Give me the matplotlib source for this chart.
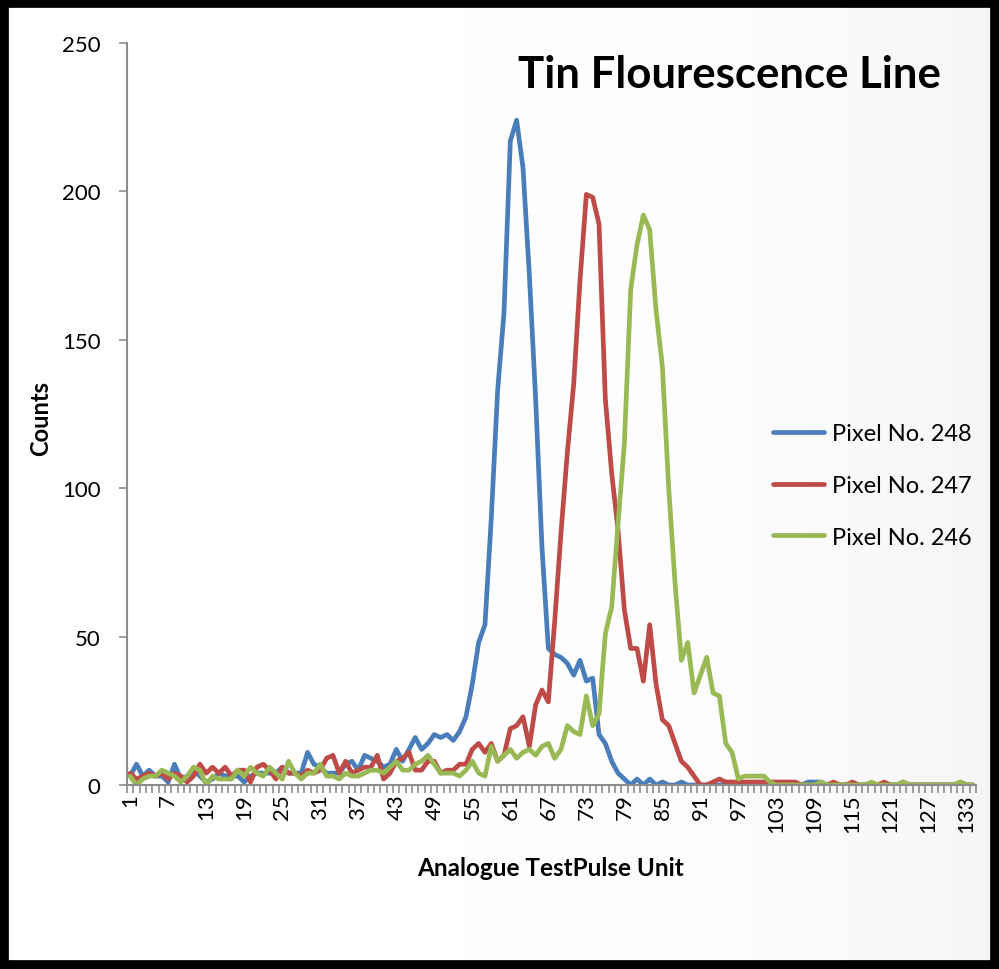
import numpy as np
import matplotlib
matplotlib.use("Agg")
import matplotlib.pyplot as plt
from matplotlib.patches import Rectangle
from matplotlib.ticker import FixedLocator, NullFormatter

plt.rcParams['font.family'] = ['Lato', 'DejaVu Sans']

title = "Tin Flourescence Line"
x_label = "Analogue TestPulse Unit"
y_label = "Counts"
series_names = ["Pixel No. 248", "Pixel No. 247", "Pixel No. 246"]
series_colors = ["#4A7EBB", "#BE4B48", "#98B954"]

units = list(range(1, 135))

pixel_248 = [3, 7, 3, 5, 3, 3, 1, 7, 2, 3, 5, 3, 1, 2, 4, 3, 3, 3, 1, 3,
             4, 4, 4, 4, 6, 4, 4, 4, 11, 7, 6, 4, 4, 4, 7, 8, 5, 10, 9, 8,
             6, 7, 12, 8, 12, 16, 12, 14, 17, 16, 17, 15, 18, 23, 34, 48, 54, 90, 133, 159,
             217, 224, 208, 172, 130, 80, 46, 44, 43, 41, 37, 42, 35, 36, 17, 14, 8, 4, 2, 0,
             2, 0, 2, 0, 1, 0, 0, 1, 0, 0, 0, 0, 0, 0, 0, 0, 0, 0, 0, 0,
             0, 0, 0, 0, 0, 0, 0, 1, 1, 1, 0, 0, 0, 0, 0, 0, 0, 0, 0, 0,
             0, 0, 0, 0, 0, 0, 0, 0, 0, 0, 0, 0, 0, 0]

pixel_247 = [4, 2, 3, 4, 3, 4, 2, 4, 3, 1, 3, 7, 4, 6, 4, 6, 3, 5, 5, 1,
             6, 7, 5, 2, 6, 4, 4, 3, 5, 4, 5, 9, 10, 4, 8, 4, 5, 6, 6, 10,
             2, 4, 8, 9, 11, 5, 5, 8, 8, 4, 5, 5, 7, 7, 12, 14, 11, 14, 8, 10,
             19, 20, 23, 13, 27, 32, 28, 55, 85, 112, 135, 170, 199, 198, 189, 130, 105, 86, 59, 46,
             46, 35, 54, 34, 22, 20, 14, 8, 6, 3, 0, 0, 1, 2, 1, 1, 1, 1, 1, 1,
             1, 1, 1, 1, 1, 1, 0, 0, 0, 0, 0, 1, 0, 0, 1, 0, 0, 0, 0, 1,
             0, 0, 1, 0, 0, 0, 0, 0, 0, 0, 0, 1, 0, 0]

pixel_246 = [3, 0, 2, 3, 3, 5, 4, 3, 1, 3, 6, 5, 0, 3, 2, 2, 2, 5, 3, 6,
             4, 3, 6, 4, 2, 8, 4, 2, 4, 4, 7, 3, 3, 2, 4, 3, 3, 4, 5, 5,
             4, 6, 8, 5, 5, 7, 8, 10, 7, 4, 4, 4, 3, 5, 8, 4, 3, 13, 8, 10,
             12, 9, 11, 12, 10, 13, 14, 9, 12, 20, 18, 17, 30, 20, 24, 51, 60, 88, 115, 167,
             182, 192, 187, 160, 141, 100, 68, 42, 48, 31, 37, 43, 31, 30, 14, 11, 2, 3, 3, 3,
             3, 1, 0, 0, 0, 0, 0, 0, 0, 1, 0, 0, 0, 0, 0, 0, 0, 1, 0, 0,
             0, 0, 1, 0, 0, 0, 0, 0, 0, 0, 0, 1, 0, 0]

y_ticks = [0, 50, 100, 150, 200, 250]
x_tick_labels = list(range(1, 135, 6))

W, H = 999, 970
fig = plt.figure(figsize=(W / 100, H / 100), dpi=100)
fig.patch.set_facecolor("white")

# right-side soft shading like the original slide
grad = np.linspace(0, 1, 200)[None, :] ** 4
bg = fig.add_axes([0, 0, 1, 1], zorder=-10)
bg.imshow(np.repeat(grad, 2, axis=0), cmap="Greys", vmin=0, vmax=12,
          aspect="auto", extent=[0, 1, 0, 1])
bg.set_axis_off()

ax = fig.add_axes([127 / W, 1 - 786 / H, (976 - 127) / W, (786 - 44) / H])
ax.patch.set_alpha(0)

data = [pixel_248, pixel_247, pixel_246]
for vals, name, col in zip(data, series_names, series_colors):
    ax.plot(units, vals, color=col, lw=3.4, label=name, solid_joinstyle="round",
            solid_capstyle="round")

ax.set_xlim(0.5, 134.5)
ax.set_ylim(0, 250)
ax.set_yticks(y_ticks)
ax.set_xticks(x_tick_labels)
ax.set_xticklabels([str(v) for v in x_tick_labels], rotation=90, fontsize=16)
ax.xaxis.set_minor_locator(FixedLocator(np.arange(0.5, 135, 1)))
ax.xaxis.set_minor_formatter(NullFormatter())
ax.tick_params(axis="x", which="major", length=0, pad=6)
ax.tick_params(axis="x", which="minor", length=6, width=1.2, color="#8C8C8C")
ax.tick_params(axis="y", which="major", length=6, width=1.2, color="#8C8C8C",
               labelsize=16, pad=13)

for side in ["top", "right"]:
    ax.spines[side].set_visible(False)
for side in ["left", "bottom"]:
    ax.spines[side].set_color("#8C8C8C")
    ax.spines[side].set_linewidth(1.5)

fig.text(551 / W, 1 - 869 / H, x_label, fontsize=17.5, fontweight="bold",
         ha="center", va="center")
fig.text(41 / W, 1 - 418 / H, y_label, fontsize=17, fontweight="bold",
         ha="center", va="center", rotation=90)

fig.text(729 / W, 1 - 75 / H, title, fontsize=31.5, fontweight="bold",
         ha="center", va="center")

leg = ax.legend(loc="upper left", bbox_to_anchor=(752 / W, 1 - 403 / H),
                bbox_transform=fig.transFigure, frameon=False, fontsize=17,
                handlelength=2.15, labelspacing=1.3, handletextpad=0.35)

# black frame
fig.patches.append(Rectangle((4 / W, 4 / H), 1 - 8 / W, 1 - 8 / H,
                             transform=fig.transFigure, fill=False,
                             edgecolor="black", linewidth=7, zorder=100))

fig.savefig("out.png", dpi=100)
